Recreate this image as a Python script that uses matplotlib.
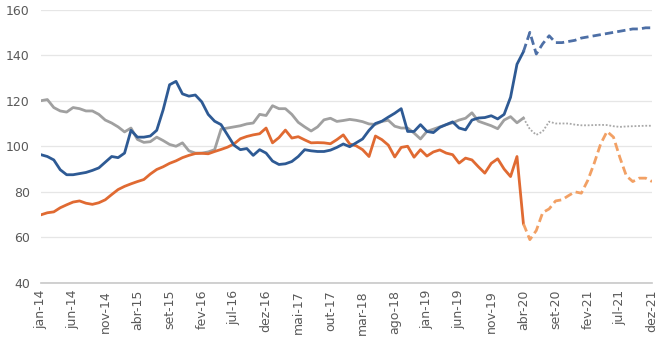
import matplotlib
matplotlib.use("Agg")
import matplotlib.pyplot as plt

months = ["jan", "fev", "mar", "abr", "mai", "jun", "jul", "ago", "set", "out", "nov", "dez"]
labels = [f"{months[i % 12]}-{14 + i // 12}" for i in range(96)]

# index of last observed month (abr-20); projections start there
split = 75

blue = [96.3, 95.5, 94.0, 89.7, 87.5, 87.5, 88.0, 88.5, 89.4, 90.5,
        93.0, 95.5, 95.0, 97.0, 107.0, 104.0, 104.0, 104.5, 107.0, 116.0,
        127.0, 128.5, 123.0, 122.0, 122.5, 119.5, 114.0, 111.0, 109.5, 105.0,
        100.5, 98.5, 99.0, 96.0, 98.5, 97.0, 93.5, 92.0, 92.3, 93.3,
        95.5, 98.5, 98.0, 97.7, 97.7, 98.3, 99.5, 101.0, 99.8, 101.5,
        103.2, 107.0, 110.0, 111.0, 112.8, 114.5, 116.5, 106.5, 106.5, 109.5,
        106.5, 106.0, 108.3, 109.5, 110.7, 108.0, 107.2, 111.5, 112.4, 112.6,
        113.4, 112.0, 114.0, 121.5, 136.0, 141.5, 150.0, 140.5, 145.0, 148.5,
        145.5, 145.5, 146.0, 146.5, 147.5, 148.0, 148.5, 149.0, 149.5, 150.0,
        150.5, 151.0, 151.5, 151.5, 152.0, 152.0]

orange = [69.9, 70.8, 71.2, 73.0, 74.3, 75.5, 76.0, 75.0, 74.5, 75.2,
          76.5, 78.8, 81.0, 82.4, 83.5, 84.5, 85.4, 87.8, 89.8, 91.0,
          92.5, 93.6, 95.0, 96.0, 96.8, 96.9, 96.7, 97.7, 98.6, 99.6,
          101.0, 103.3, 104.3, 105.0, 105.5, 108.0, 101.5, 103.8, 107.1, 103.6,
          104.2, 102.8, 101.5, 101.6, 101.5, 101.1, 102.9, 105.0, 101.0, 100.2,
          98.5, 95.5, 104.5, 102.9, 100.5, 95.3, 99.5, 100.0, 95.2, 98.5,
          95.7, 97.5, 98.4, 97.0, 96.3, 92.6, 94.8, 94.0, 91.0, 88.2,
          92.5, 94.5, 90.0, 86.7, 95.5, 66.0, 59.0, 63.0, 70.9, 72.5,
          76.0, 76.5, 78.3, 80.0, 79.4, 85.0, 92.5, 101.0, 106.5, 104.0,
          95.0, 87.0, 84.5, 86.0, 86.0, 84.5]

gray = [120.0, 120.5, 117.0, 115.5, 115.0, 117.0, 116.5, 115.5, 115.5, 114.0,
        111.5, 110.2, 108.5, 106.3, 108.0, 103.0, 101.7, 102.0, 104.0, 102.5,
        100.8, 100.0, 101.5, 98.0, 97.0, 97.0, 97.5, 98.5, 107.5, 108.0,
        108.5, 109.0, 109.8, 110.2, 114.0, 113.5, 117.8, 116.5, 116.5, 114.0,
        110.5, 108.5, 106.7, 108.5, 111.6, 112.3, 110.9, 111.3, 111.8, 111.4,
        110.8, 109.8, 109.6, 110.9, 111.4, 108.8, 108.0, 108.0, 105.8, 103.2,
        106.5, 107.5, 108.5, 109.5, 110.3, 111.5, 112.3, 114.7, 111.0, 110.0,
        109.0, 107.7, 111.5, 113.0, 110.3, 112.4, 107.5, 105.0, 106.5, 110.8,
        110.0, 110.0, 110.0, 109.5, 109.2, 109.2, 109.3, 109.4, 109.3, 108.8,
        108.5, 108.7, 108.8, 108.9, 109.0, 109.0]

x = list(range(len(labels)))

fig = plt.figure(figsize=(6.6, 3.55), dpi=100)
ax = fig.add_axes([0.062, 0.203, 0.926, 0.770])

# observed part (solid)
ax.plot(x[:split + 1], gray[:split + 1], color="#A0A0A0", lw=2.0)
ax.plot(x[:split + 1], orange[:split + 1], color="#E06A32", lw=2.0)
ax.plot(x[:split + 1], blue[:split + 1], color="#2E5A94", lw=2.0)

# projections
ax.plot(x[split:], gray[split:], color="#A8A8A8", lw=1.3, ls=(0, (1, 1)))
ax.plot(x[split:], orange[split:], color="#F2A064", lw=2.0, ls=(0, (3, 1.5)))
ax.plot(x[split:], blue[split:], color="#4D6FA6", lw=2.0, ls=(0, (3, 1.5)))

ax.set_xlim(0, 95)
ax.set_ylim(40, 160)
ax.set_yticks(range(40, 161, 20))
ax.set_xticks(x[::5])
ax.set_xticklabels(labels[::5], rotation=90)
ax.tick_params(axis="both", length=0, labelsize=9, colors="#595959")
ax.tick_params(axis="y", pad=8)
ax.tick_params(axis="x", pad=5)
ax.grid(axis="y", color="#E6E6E6", lw=0.9)
ax.set_axisbelow(True)
for s in ["left", "right", "top"]:
    ax.spines[s].set_visible(False)
ax.spines["bottom"].set_color("#C8C8C8")
ax.spines["bottom"].set_linewidth(1.2)

fig.savefig("out.png", dpi=100)
